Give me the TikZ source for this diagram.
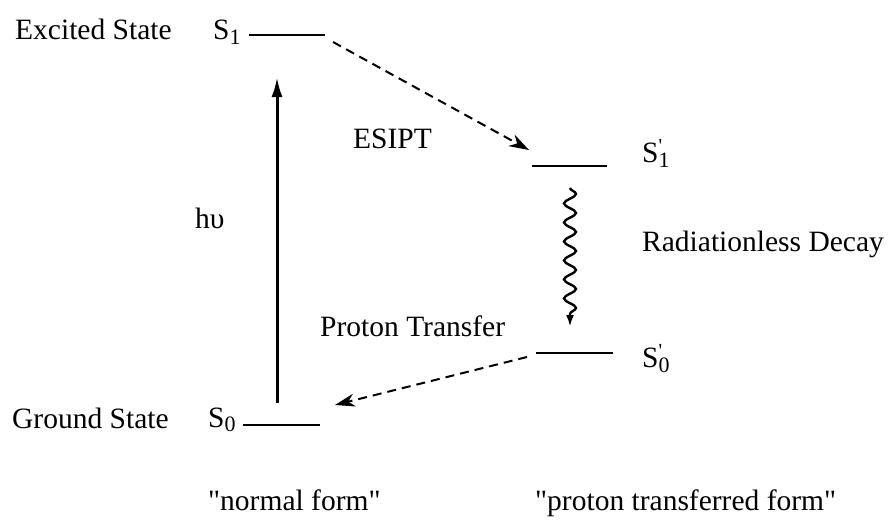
\documentclass[tikz,border=0pt]{standalone}
\usepackage{fontspec}
\setmainfont{Liberation Serif}
\usetikzlibrary{arrows.meta,decorations.pathmorphing}
\newcommand\lvsub[1]{\raisebox{-4.5pt}{\fontsize{22}{22}\selectfont #1}}
\newcommand\lvprime[1]{S\rlap{\raisebox{10pt}{\fontsize{20}{20}\selectfont\textquotesingle}}\raisebox{-5.5pt}{\fontsize{22}{22}\selectfont #1}}
\begin{document}
\begin{tikzpicture}[x=1pt,y=-1pt,
  txt/.style={font=\fontsize{29.5}{35}\selectfont, inner sep=0pt, anchor=base west},
  level/.style={line width=2.4pt},
  excite/.style={line width=3pt, -{Latex[length=20pt,width=11pt]}},
  transfer/.style={line width=2pt, dash pattern=on 9pt off 6pt, -{Stealth[length=20pt,width=13pt]}},
  decay/.style={line width=2.4pt, decorate, decoration={snake, amplitude=6pt, segment length=19pt, post length=12pt}, -{Latex[length=12pt,width=8pt]}}]
\useasboundingbox (0,0) rectangle (888,527);
% labels
\node[txt] (exc) at (15,40) {Excited State};
\node[txt] (gnd) at (12,428) {Ground State};
\node[txt] (s1) at (213,40) {S\lvsub{1}};
\node[txt] (s0) at (208,427) {S\lvsub{0}};
\node[txt] (s1p) at (642,162) {\lvprime{1}};
\node[txt] (s0p) at (642,367) {\lvprime{0}};
\node[txt] (hv) at (195,228) {hυ};
\node[txt] (esipt) at (353,148) {ESIPT};
\node[txt] (rad) at (642,251) {Radiationless Decay};
\node[txt] (pt) at (320,336) {Proton Transfer};
\node[txt] (nf) at (208,510) {\textquotedbl normal form\textquotedbl};
\node[txt] (ptf) at (535,510) {\textquotedbl proton transferred form\textquotedbl};
% levels
\coordinate (S1a) at (249,35); \coordinate (S1b) at (325,35);
\coordinate (S0a) at (243,425); \coordinate (S0b) at (320,425);
\coordinate (S1pa) at (532,166); \coordinate (S1pb) at (607,166);
\coordinate (S0pa) at (536,353); \coordinate (S0pb) at (613,353);
\draw[level] (S1a) -- (S1b);
\draw[level] (S0a) -- (S0b);
\draw[level] (S1pa) -- (S1pb);
\draw[level] (S0pa) -- (S0pb);
% transitions
\coordinate (upA) at (277,403); \coordinate (upB) at (277,77);
\draw[excite] (upA) -- (upB);
\coordinate (esA) at (333,42); \coordinate (esB) at (529,150);
\draw[transfer] (esA) -- (esB);
\coordinate (ptA) at (527,357); \coordinate (ptB) at (335,405);
\draw[transfer] (ptA) -- (ptB);
\coordinate (wA) at (570,188); \coordinate (wB) at (570,327);
\draw[decay] (wA) -- (wB);
\end{tikzpicture}
\end{document}
